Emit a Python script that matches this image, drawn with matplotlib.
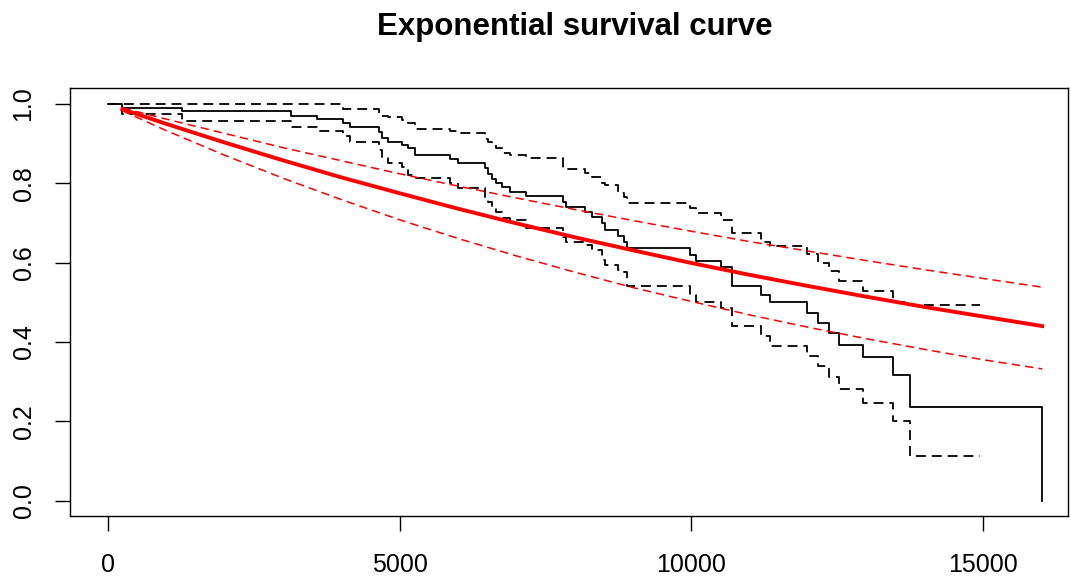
import matplotlib
matplotlib.use("Agg")
import matplotlib.pyplot as plt

plt.rcParams['font.family'] = ['Liberation Sans', 'DejaVu Sans']

# --- Kaplan-Meier estimate ---
km_time = [0, 240, 1264, 3132, 3581, 4036, 4151, 4653, 4694, 4807, 5037, 5150,
           5265, 5864, 6007, 6464, 6520, 6579, 6644, 6750, 6892, 7166, 7805,
           7843, 8177, 8292, 8468, 8519, 8742, 8845, 8892, 9976, 10087, 10502,
           10690, 11187, 11338, 11975, 12174, 12362, 12534, 12935, 13459, 13745]
km_surv = [1.0, 0.991, 0.982, 0.970, 0.962, 0.951, 0.941, 0.930, 0.915, 0.905,
           0.897, 0.888, 0.871, 0.861, 0.850, 0.838, 0.823, 0.811, 0.800, 0.790,
           0.779, 0.767, 0.754, 0.741, 0.728, 0.716, 0.699, 0.682, 0.668, 0.651,
           0.636, 0.619, 0.604, 0.588, 0.541, 0.518, 0.500, 0.474, 0.448, 0.422,
           0.392, 0.361, 0.317, 0.237]
km_upper = [1.0, 1.0, 1.0, 1.0, 1.0, 0.988, 0.987, 0.976, 0.970, 0.967, 0.960,
            0.953, 0.937, 0.932, 0.926, 0.913, 0.905, 0.897, 0.888, 0.876, 0.872,
            0.863, 0.838, 0.835, 0.825, 0.815, 0.800, 0.796, 0.775, 0.765, 0.751,
            0.738, 0.724, 0.707, 0.675, 0.653, 0.643, 0.622, 0.600, 0.579, 0.554,
            0.529, 0.500, 0.492]
km_lower = [1.0, 0.976, 0.957, 0.943, 0.933, 0.920, 0.905, 0.884, 0.863, 0.850,
            0.842, 0.821, 0.813, 0.800, 0.787, 0.762, 0.754, 0.741, 0.728, 0.712,
            0.707, 0.688, 0.665, 0.653, 0.644, 0.632, 0.607, 0.594, 0.581, 0.577,
            0.541, 0.518, 0.501, 0.485, 0.440, 0.415, 0.390, 0.364, 0.340, 0.312,
            0.281, 0.247, 0.200, 0.112]
km_last_time = 16015   # last event, curve drops to 0
ci_last_time = 14944   # confidence bands stop here

# --- exponential fit ---
exp_time = [250, 1000, 2000, 3000, 4000, 5000, 6000, 7000, 8000, 9000, 10000,
            11000, 12000, 13000, 14000, 15000, 16010]
exp_surv = [0.987, 0.950, 0.903, 0.858, 0.815, 0.775, 0.736, 0.699, 0.664, 0.631,
            0.599, 0.569, 0.541, 0.514, 0.488, 0.464, 0.440]
exp_upper = [0.990, 0.962, 0.926, 0.890, 0.857, 0.824, 0.793, 0.763, 0.734, 0.706,
             0.679, 0.653, 0.629, 0.605, 0.582, 0.560, 0.538]
exp_lower = [0.983, 0.933, 0.871, 0.813, 0.759, 0.708, 0.661, 0.617, 0.576, 0.537,
             0.502, 0.468, 0.437, 0.408, 0.381, 0.355, 0.332]

x_ticks = [0, 5000, 10000, 15000]
y_ticks = [0.0, 0.2, 0.4, 0.6, 0.8, 1.0]
y_tick_labels = ["0.0", "0.2", "0.4", "0.6", "0.8", "1.0"]

fig = plt.figure(figsize=(10.71, 5.81), dpi=100)
ax = fig.add_axes([0.0654, 0.1119, 0.9318, 0.7361])

dash = (0, (5.5, 3.3))

ax.step(km_time + [km_last_time], km_surv + [0.0], where='post',
        color='black', lw=1.3)
ax.step(km_time + [ci_last_time], km_upper + [km_upper[-1]], where='post',
        color='black', lw=1.3, linestyle=dash)
ax.step(km_time + [ci_last_time], km_lower + [km_lower[-1]], where='post',
        color='black', lw=1.3, linestyle=dash)

ax.plot(exp_time, exp_surv, color='red', lw=2.8)
ax.plot(exp_time, exp_upper, color='red', lw=1.1, linestyle=dash)
ax.plot(exp_time, exp_lower, color='red', lw=1.1, linestyle=dash)

ax.set_xlim(-646, 16452)
ax.set_ylim(-0.039, 1.0396)
ax.set_xticks(x_ticks)
ax.set_xticklabels([str(v) for v in x_ticks])
ax.set_yticks(y_ticks)
ax.set_yticklabels(y_tick_labels, rotation=90, va='center')
ax.tick_params(axis='both', direction='out', length=10.8, width=1.0,
               labelsize=18, colors='black')
ax.tick_params(axis='x', pad=16)
ax.tick_params(axis='y', pad=14)
for s in ax.spines.values():
    s.set_linewidth(1.0)

fig.text(0.537, 0.9535, "Exponential survival curve", ha='center', va='center',
         fontsize=22.5, fontweight='bold')

fig.savefig("out.png", dpi=100)
